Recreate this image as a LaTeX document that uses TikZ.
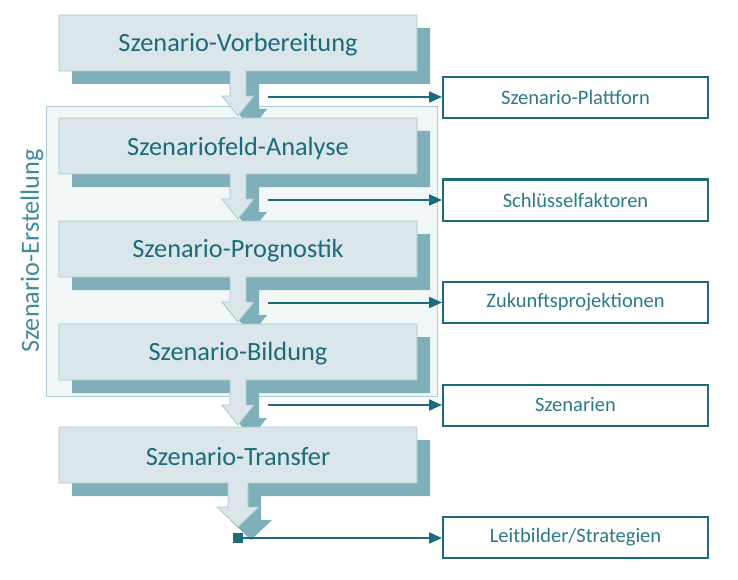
\documentclass[tikz,border=0pt]{standalone}
\usepackage{fontspec}
\setmainfont{Carlito}
\usetikzlibrary{arrows.meta}
\definecolor{boxfill}{HTML}{DAE6EA}
\definecolor{boxline}{HTML}{A8C9D1}
\definecolor{shadecol}{HTML}{7FAFB9}
\definecolor{darkteal}{HTML}{1B6B7B}
\definecolor{outtext}{HTML}{2A7A89}
\definecolor{contfill}{HTML}{F1F6F7}
\definecolor{contline}{HTML}{A9CDD4}
\definecolor{labelcol}{HTML}{3D8D9B}
% #1 top, #2 bottom, #3 half shaft, #4 half head, #5 shaft length, #6 head length, #7 options
\newcommand{\stageshape}[7]{%
  \path[#7] (59,#1) -- (417,#1) -- (417,#2) -- ({238+#3},#2) -- ({238+#3},{#2+#5})
    -- ({238+#4},{#2+#5}) -- (238,{#2+#5+#6}) -- ({238-#4},{#2+#5})
    -- ({238-#3},{#2+#5}) -- ({238-#3},#2) -- (59,#2) -- cycle;}
\tikzset{
  lightshape/.style={fill=boxfill, draw=boxline, line width=0.8pt},
  shadowshape/.style={fill=shadecol, shift={(13,13)}},
  stagetext/.style={text=darkteal, font=\fontsize{26.3}{30}\selectfont, inner sep=0pt},
  outbox/.style={draw=darkteal, line width=2pt, fill=white, minimum width=265pt,
    minimum height=41pt, inner sep=0pt, text=outtext, font=\fontsize{20.5}{24}\selectfont},
  conn/.style={draw=darkteal, line width=2pt, -{Triangle[length=13pt,width=11pt]}},
  endsq/.style={fill=darkteal, minimum size=10pt, inner sep=0pt}
}
\begin{document}
\begin{tikzpicture}[x=1pt,y=-1pt]
\useasboundingbox (0,0) rectangle (738,580);
% container
\node[draw=contline, fill=contfill, line width=1pt, minimum width=391pt, minimum height=289pt,
  inner sep=0pt] (cont) at (241.5,251.5) {};
\node[rotate=90, text=labelcol, font=\fontsize{26.3}{30}\selectfont, inner sep=0pt] (lab) at (32,251) {Szenario-Erstellung};
% shadows
\stageshape{15}{71}{8}{16}{25}{20}{shadowshape}
\stageshape{118}{174}{8}{16}{25}{20}{shadowshape}
\stageshape{221}{277}{8}{16}{25}{20}{shadowshape}
\stageshape{324}{380}{8}{16}{25}{20}{shadowshape}
\stageshape{427}{483}{10}{21}{24}{20}{shadowshape}
% light shapes
\stageshape{15}{71}{8}{16}{25}{20}{lightshape}
\stageshape{118}{174}{8}{16}{25}{20}{lightshape}
\stageshape{221}{277}{8}{16}{25}{20}{lightshape}
\stageshape{324}{380}{8}{16}{25}{20}{lightshape}
\stageshape{427}{483}{10}{21}{24}{20}{lightshape}
% stage texts
\node[stagetext] (s1) at (238,45) {Szenario-Vorbereitung};
\node[stagetext] (s2) at (238,148) {Szenariofeld-Analyse};
\node[stagetext] (s3) at (238,251) {Szenario-Prognostik};
\node[stagetext] (s4) at (238,354) {Szenario-Bildung};
\node[stagetext] (s5) at (238,457) {Szenario-Transfer};
% output boxes
\node[outbox] (o1) at (575.5,97.5) {Szenario-Plattforn};
\node[outbox] (o2) at (575.5,200) {Schlüsselfaktoren};
\node[outbox] (o3) at (575.5,302.5) {Zukunftsprojektionen};
\node[outbox] (o4) at (575.5,405) {Szenarien};
\node[outbox] (o5) at (575.5,537.5) {Leitbilder/Strategien};
% connectors
\coordinate (a1) at (268,97);
\coordinate (a2) at (268,200);
\coordinate (a3) at (268,302.5);
\coordinate (a4) at (268,405);
\draw[conn] (a1) -- (a1 -| o1.west);
\draw[conn] (a2) -- (a2 -| o2.west);
\draw[conn] (a3) -- (a3 -| o3.west);
\draw[conn] (a4) -- (a4 -| o4.west);
\node[endsq] (sq) at (238,538) {};
\draw[conn] (sq.center) -- (sq.center -| o5.west);
\end{tikzpicture}
\end{document}
